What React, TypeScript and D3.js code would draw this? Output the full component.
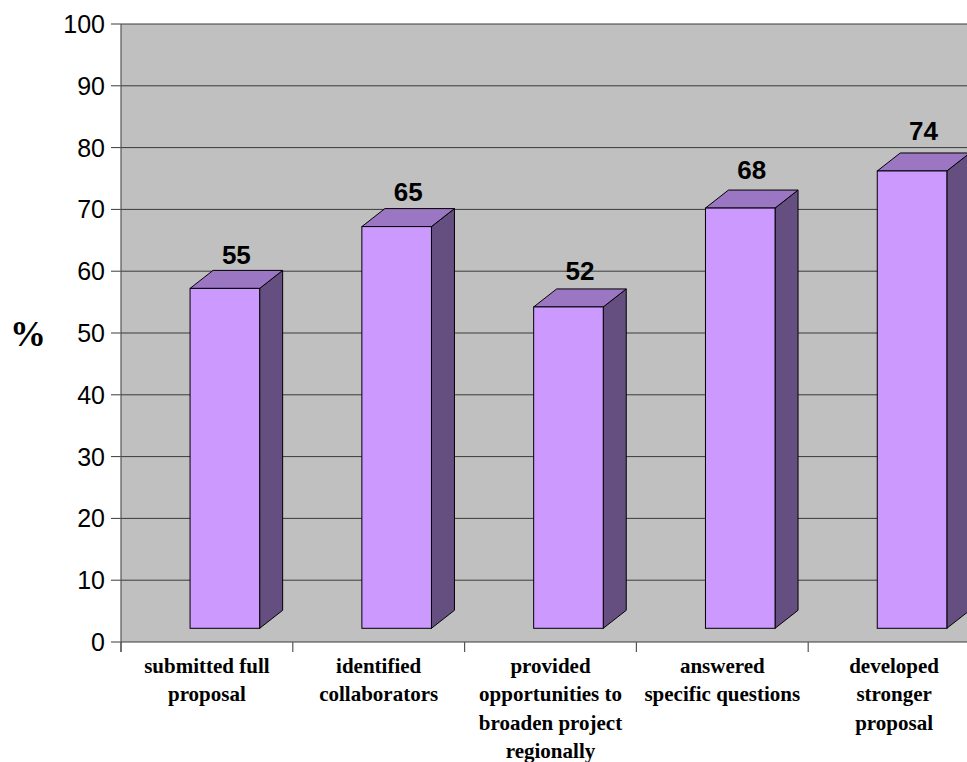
import React from "react";
import * as d3 from "d3";

const categories: string[][] = [
  ["submitted full", "proposal"],
  ["identified", "collaborators"],
  ["provided", "opportunities to", "broaden project", "regionally"],
  ["answered", "specific questions"],
  ["developed", "stronger", "proposal"],
];
const values: number[] = [55, 65, 52, 68, 74];
const yTicks: number[] = [0, 10, 20, 30, 40, 50, 60, 70, 80, 90, 100];
const yAxisTitle = "%";

const W = 967;
const H = 762;

export default function App() {
  const left = 121;
  const right = 980;
  const top = 24;
  const bottom = 642;
  const x = d3
    .scaleBand<number>()
    .domain(values.map((_, i) => i))
    .range([left, right]);
  const y = d3.scaleLinear().domain([0, 100]).range([bottom, top]);
  const bw = x.bandwidth();
  const depthX = 23;
  const depthY = 18;
  const floorShift = 13.7;
  const barW = bw * 0.405;

  const front = "#CC99FF";
  const topC = "#9B77C3";
  const side = "#654E80";

  return (
    <svg
      width={W}
      height={H}
      style={{ position: "absolute", left: 0, top: 0, overflow: "hidden" }}
    >
      <rect x={0} y={0} width={W} height={H} fill="#ffffff" />
      <rect x={left} y={top} width={right - left} height={bottom - top} fill="#C0C0C0" />
      {yTicks.map((t) => (
        <g key={t}>
          <line x1={left - 10} x2={right} y1={y(t)} y2={y(t)} stroke="#3a3a3a" strokeWidth={1} />
          <text
            x={105}
            y={y(t)}
            dy="0.36em"
            textAnchor="end"
            fontFamily="Liberation Sans, Arial, sans-serif"
            fontSize={25}
            fill="#000"
          >
            {t}
          </text>
        </g>
      ))}
      <line x1={left} x2={left} y1={top} y2={bottom + 10} stroke="#555" strokeWidth={1.2} />
      {values.map((_, i) => (
        <line
          key={"xt" + i}
          x1={x(i)!}
          x2={x(i)!}
          y1={bottom}
          y2={bottom + 10}
          stroke="#555"
          strokeWidth={1.2}
        />
      ))}
      {values.map((v, i) => {
        const fx = x(i)! + bw * 0.402;
        const fb = y(0) - floorShift;
        const ft = y(v) - floorShift;
        const fr = fx + barW;
        const topPts = [
          [fx, ft],
          [fx + depthX, ft - depthY],
          [fr + depthX, ft - depthY],
          [fr, ft],
        ];
        const sidePts = [
          [fr, ft],
          [fr + depthX, ft - depthY],
          [fr + depthX, fb - depthY],
          [fr, fb],
        ];
        const gap = 6 + 1.7 * i;
        return (
          <g key={"b" + i}>
            <polygon
              points={sidePts.map((p) => p.join(",")).join(" ")}
              fill={side}
              stroke="#000"
              strokeWidth={1}
            />
            <polygon
              points={topPts.map((p) => p.join(",")).join(" ")}
              fill={topC}
              stroke="#000"
              strokeWidth={1}
            />
            <rect x={fx} y={ft} width={barW} height={fb - ft} fill={front} stroke="#000" strokeWidth={1} />
            <text
              x={fx + (barW + depthX) / 2}
              y={ft - depthY - gap}
              textAnchor="middle"
              fontFamily="Liberation Sans, Arial, sans-serif"
              fontWeight="bold"
              fontSize={26}
              fill="#000"
            >
              {v}
            </text>
          </g>
        );
      })}
      {categories.map((lines, i) => (
        <text
          key={"c" + i}
          textAnchor="middle"
          fontFamily="Liberation Serif, Times New Roman, serif"
          fontWeight="bold"
          fontSize={21}
          fill="#000"
        >
          {lines.map((l, j) => (
            <tspan key={j} x={x(i)! + bw / 2} y={673 + j * 28.3}>
              {l}
            </tspan>
          ))}
        </text>
      ))}
      <text
        x={28}
        y={346}
        textAnchor="middle"
        fontFamily="Liberation Serif, Times New Roman, serif"
        fontWeight="bold"
        fontSize={36}
        fill="#000"
      >
        {yAxisTitle}
      </text>
    </svg>
  );
}
